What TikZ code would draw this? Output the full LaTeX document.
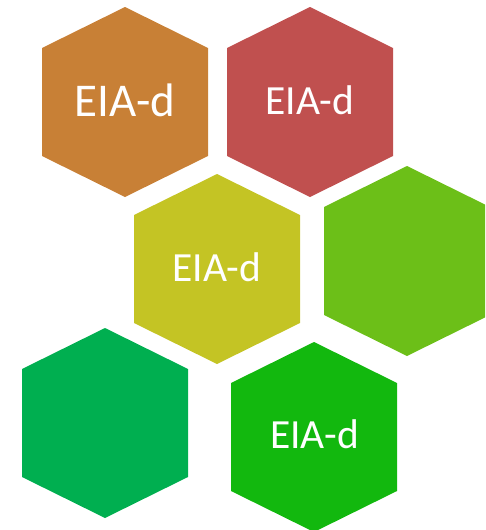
\documentclass[tikz,border=0pt]{standalone}
\usepackage{fontspec}
\setmainfont{Carlito}
\definecolor{hexorange}{HTML}{C88036}
\definecolor{hexred}{HTML}{C0504F}
\definecolor{hexyellow}{HTML}{C4C424}
\definecolor{hexlime}{HTML}{6CBF18}
\definecolor{hexemerald}{HTML}{00AF50}
\definecolor{hexgreen}{HTML}{12B80E}
\tikzset{
  hexlabel/.style={text=white, anchor=base, inner sep=0pt, font=\fontsize{41.5}{41.5}\selectfont},
  biglabel/.style={hexlabel, font=\fontsize{47}{47}\selectfont}
}
\newcommand\hexcell[3]{%
  \fill[#3] (#1,#2-95) -- (#1+83,#2-54) -- (#1+83,#2+54) -- (#1,#2+95)
    -- (#1-83,#2+54) -- (#1-83,#2-54) -- cycle;}
\begin{document}
\begin{tikzpicture}[x=1pt,y=-1pt]
\useasboundingbox (0,0) rectangle (485,530);
\clip (0,0) rectangle (485,530);
\hexcell{125}{102}{hexorange}
\hexcell{310}{102}{hexred}
\hexcell{217}{269}{hexyellow}
\hexcell{407}{261}{hexlime}
\hexcell{105}{423}{hexemerald}
\hexcell{314}{437}{hexgreen}
\node[biglabel] (t1) at (125,116) {EIA-d};
\node[hexlabel] (t2) at (310,114) {EIA-d};
\node[hexlabel] (t3) at (217,281) {EIA-d};
\node[hexlabel] (t6) at (314.5,448) {EIA-d};
\end{tikzpicture}
\end{document}
